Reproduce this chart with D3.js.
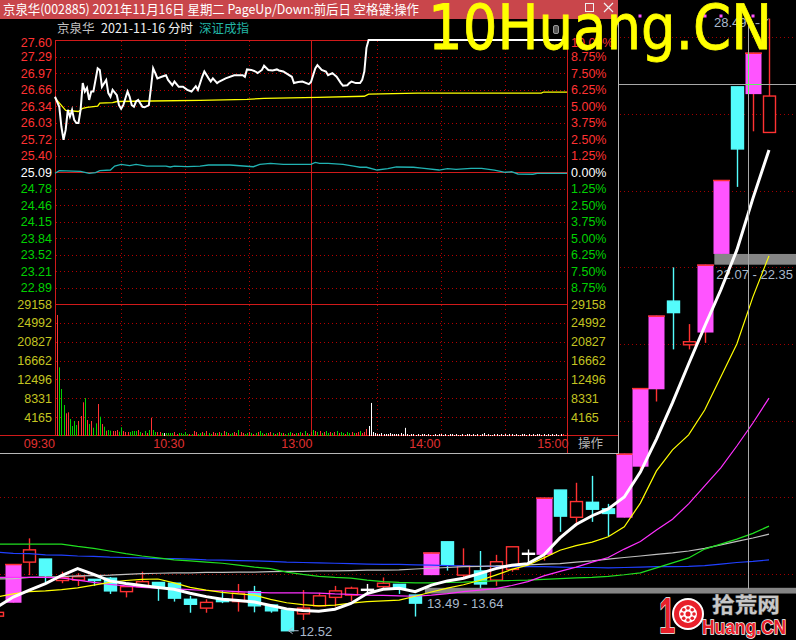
<!DOCTYPE html>
<meta charset="utf-8" />
<html>
<head>
<script src="https://cdnjs.cloudflare.com/ajax/libs/d3/7.8.5/d3.min.js"></script>
<style>
  body { margin: 0; background: #000; }
  svg { display: block; }
  .num { font-family: "Liberation Sans", Arial, sans-serif; font-size: 12.5px; }
  .cjk { font-family: "Noto Sans CJK SC", sans-serif; }
</style>
</head>
<body>
<svg width="796" height="640"></svg>
<script>
// ---------------- daily bars (oldest first), last bar = 2021-11-17 ----------------
var dayOpen  = [12.90, 13.25, 14.31, 14.39, 13.83, 13.84, 13.86, 13.89, 13.54, 13.67,
                13.78, 13.76, 13.34, 13.11, 13.34, 13.28, 13.54, 13.19, 13.06, 12.96,
                13.17, 13.39, 13.45, 13.60, 13.67, 13.73, 13.45, 13.97, 14.84, 13.97,
                14.08, 13.84, 14.12, 14.54, 14.50, 16.19, 15.48, 15.87, 15.70, 15.47,
                16.80, 18.82, 21.12, 19.98, 20.30, 22.35, 26.71, 26.52, 25.52];
var dayHigh  = [13.05, 14.26, 14.93, 14.39, 14.06, 14.02, 13.86, 13.92, 13.67, 14.06,
                13.78, 13.76, 13.43, 13.34, 13.56, 13.74, 13.69, 13.19, 13.06, 13.58,
                13.51, 13.69, 13.67, 13.74, 13.91, 13.73, 13.45, 14.56, 14.84, 14.67,
                14.60, 14.50, 14.71, 14.64, 15.99, 16.19, 16.38, 16.56, 15.83, 17.14,
                18.85, 20.74, 22.00, 20.52, 22.07, 24.28, 26.71, 27.60, 28.49];
var dayLow   = [12.85, 13.25, 13.97, 13.76, 13.76, 13.69, 13.69, 13.48, 13.39, 13.67,
                13.30, 13.28, 12.99, 12.99, 13.24, 13.02, 13.00, 12.99, 12.52, 12.80,
                13.17, 13.15, 13.30, 13.45, 13.61, 13.48, 12.89, 13.97, 14.09, 13.89,
                13.61, 13.69, 14.06, 14.29, 14.35, 15.10, 15.25, 15.36, 14.99, 15.47,
                16.71, 18.50, 19.86, 19.86, 20.03, 22.35, 24.10, 25.55, 25.52];
var dayClose = [13.00, 14.26, 14.63, 13.96, 13.90, 13.93, 13.83, 13.56, 13.67, 13.80,
                13.67, 13.37, 13.21, 13.26, 13.28, 13.50, 13.17, 13.04, 12.52, 13.11,
                13.43, 13.56, 13.63, 13.60, 13.76, 13.61, 13.24, 14.56, 14.23, 14.21,
                13.74, 14.32, 14.71, 14.54, 15.99, 15.51, 15.89, 15.69, 15.58, 17.14,
                18.85, 20.74, 20.82, 20.06, 22.07, 24.28, 25.09, 27.60, 26.47];
var limitUpDays = [1, 27, 34, 39, 40, 41, 44, 45, 47];

// moving averages
var ma5   = [13.14, 13.40, 13.58, 13.75, 13.96, 14.14, 13.99, 13.82, 13.75, 13.70,
             13.65, 13.60, 13.50, 13.41, 13.34, 13.31, 13.27, 13.18, 13.09, 13.05,
             13.03, 13.08, 13.23, 13.49, 13.60, 13.63, 13.54, 13.71, 13.82, 13.89,
             14.01, 14.14, 14.23, 14.27, 14.50, 14.94, 15.29, 15.52, 15.70, 16.01,
             16.66, 17.52, 18.47, 19.48, 20.46, 21.41, 22.45, 23.80, 25.06];
var ma10  = [13.40, 13.48, 13.54, 13.56, 13.59, 13.64, 13.71, 13.78, 13.83, 13.86,
             13.87, 13.77, 13.65, 13.58, 13.52, 13.48, 13.45, 13.34, 13.25, 13.20,
             13.17, 13.19, 13.24, 13.28, 13.30, 13.32, 13.42, 13.53, 13.63, 13.72,
             13.83, 13.97, 14.12, 14.23, 14.42, 14.62, 14.74, 14.83, 14.97, 15.23,
             15.85, 16.69, 17.24, 17.63, 18.28, 19.14, 20.00, 21.23, 22.30];
var ma20  = [13.91, 13.91, 13.91, 13.91, 13.90, 13.84, 13.78, 13.73, 13.69, 13.65,
             13.63, 13.61, 13.59, 13.57, 13.56, 13.54, 13.52, 13.51, 13.51, 13.51,
             13.50, 13.48, 13.47, 13.45, 13.44, 13.43, 13.42, 13.45, 13.49, 13.54,
             13.58, 13.62, 13.70, 13.80, 13.95, 14.07, 14.18, 14.31, 14.43, 14.65,
             14.85, 15.15, 15.43, 15.83, 16.30, 16.77, 17.34, 17.94, 18.59];
var ma30  = [14.78, 14.78, 14.78, 14.78, 14.78, 14.72, 14.67, 14.60, 14.53, 14.47,
             14.42, 14.37, 14.34, 14.31, 14.28, 14.23, 14.18, 14.14, 14.05, 13.99,
             13.94, 13.91, 13.89, 13.84, 13.80, 13.78, 13.77, 13.77, 13.78, 13.79,
             13.81, 13.82, 13.83, 13.84, 13.86, 13.88, 13.90, 13.91, 13.94, 13.98,
             14.03, 14.16, 14.29, 14.42, 14.65, 14.78, 14.91, 15.06, 15.25];
var ma60  = [13.87, 13.88, 13.91, 13.92, 13.93, 13.95, 13.96, 13.97, 13.99, 14.01,
             14.02, 14.03, 14.03, 14.04, 14.04, 14.05, 14.05, 14.06, 14.07, 14.07,
             14.08, 14.08, 14.09, 14.10, 14.10, 14.11, 14.13, 14.15, 14.17, 14.19,
             14.20, 14.21, 14.23, 14.24, 14.26, 14.27, 14.31, 14.34, 14.39, 14.43,
             14.47, 14.51, 14.55, 14.60, 14.67, 14.76, 14.85, 14.94, 15.04];
var ma120 = [14.57, 14.54, 14.53, 14.50, 14.49, 14.47, 14.46, 14.44, 14.43, 14.42,
             14.40, 14.40, 14.39, 14.37, 14.36, 14.35, 14.34, 14.33, 14.31, 14.30,
             14.29, 14.28, 14.27, 14.26, 14.25, 14.25, 14.24, 14.23, 14.22, 14.21,
             14.20, 14.20, 14.19, 14.19, 14.19, 14.18, 14.17, 14.17, 14.16, 14.17,
             14.18, 14.19, 14.19, 14.20, 14.22, 14.26, 14.30, 14.33, 14.37];

var gapLow  = [13.49, 22.07];
var gapHigh = [13.64, 22.35];
var gapFrom = [26.6, 44.6];

// ---------------- 2021-11-16 intraday ----------------
var prevClose = 25.09;
var priceMin = [0,2,3,4,5,6,7,8,9,10, 11,12,13,14,15,16,17,18,20,21, 22,24,25,26,27,29,30,31,32,34,
                35,36,37,38,39,41,42,44,45,46, 47,48,50,52,53,55,56,58,60,62, 64,66,67,69,70,72,73,74,76,77,
                80,84,88,89,90,92,94,95,97,98, 100,102,104,105,107,109,111,112,114,116,
                119,120,122,123,125,127,128,130,132,134, 135,137,138,139,141,143,144,145,146,147, 240];
var priceVal = [26.52,26.33,25.95,25.70,25.89,26.27,26.14,26.27,26.08,26.02,
                26.02,26.27,26.78,26.62,26.69,26.46,26.62,26.62,27.06,27.03,
                26.71,26.84,26.59,26.52,26.65,26.55,26.36,26.29,26.36,26.62,
                26.52,26.36,26.33,26.43,26.46,26.33,26.32,26.36,26.70,27.06,
                26.97,26.87,26.90,26.93,26.84,26.74,26.81,26.71,26.71,26.65,
                26.62,26.72,26.65,26.90,27.00,26.87,26.81,26.87,26.78,26.81,
                26.87,26.93,26.93,26.90,27.04,27.03,27.00,26.97,27.03,27.11,
                27.03,27.02,27.04,27.02,27.00,26.95,26.90,26.78,26.80,26.81,
                26.76,26.80,27.06,27.12,27.03,27.00,26.93,26.97,26.90,26.78,
                26.73,26.74,26.78,26.81,26.78,26.78,26.84,27.00,27.45,27.60, 27.60];
var avgMin = [0, 5, 11, 13, 15, 20, 21, 27, 29, 45, 68, 90, 98, 123, 145, 147, 170, 228, 229, 240];
var avgVal = [26.50, 26.26, 26.24, 26.30, 26.32, 26.34, 26.40, 26.41, 26.43, 26.44,
              26.45, 26.47, 26.49, 26.51, 26.53, 26.57, 26.59, 26.59, 26.61, 26.61];
// 深证成指, % change
var idxMin = [0,2,12,16,19,21,26,28,31,35, 38,43,52,54,56,62,68,72,82,93, 96,101,107,120,122,124,128,135,140,143,
              146,151,156,160,168,172,180,184,188,195, 200,206,211,214,217,224,226,240];
var idxPct = [-0.10,0.10,0.05,-0.10,-0.05,0.10,0.15,0.45,0.58,0.48, 0.58,0.45,0.45,0.38,0.45,0.40,0.45,0.53,0.53,0.40,
              0.58,0.66,0.58,0.58,0.73,0.66,0.66,0.58,0.45,0.36, 0.36,0.15,0.25,0.38,0.36,0.30,0.15,0.25,0.20,0.28,
              0.28,0.15,-0.02,0.02,-0.15,-0.17,-0.10,-0.10];
// volume per minute 09:31 .. 15:00
var volume = [26730,15176,10380,6848,5014,5235,3755,2209,3314,2430, 3314,4418,7444,8394,3534,2651,3314,1833,2805,7069,
              4263,2651,2054,1171,1325,1171,1105,1105,1325,950, 1922,1105,884,884,884,1105,1105,1105,1325,884,
              663,1105,663,1325,4042,1325,884,884,884,663, 663,663,663,663,663,884,442,663,663,442,
              884,442,442,442,1105,884,442,
              663,884,663,1105,663,442,884,663,663,884, 663,1105,884,663,442,663,884,663,1325,884,
              663,442,663,884,663,442,663,884,1105,663, 442,663,663,884,663,442,663,884,663,663,
              442,663,884,663,442,663,663,884,663,1105, 663,442,884,
              1325,1105,884,1105,663,884,1105,663,884,663, 884,1105,663,884,663,442,884,663,884,663,
              663,884,1105,663,884,1546,2209, 7300,
              884,663,442,442,663,442,442,442,663,442, 442,442,442,663,442, 1800,
              442,221,442,442,221,442,221,442,442,221, 442,221,221,442,221,442,442,221,442,221,
              442,442,221,442,221,221,442,221,442,442, 221,442,221,442,221,442,663,221,442,221,
              221,442,442,221,442,221,442,221,442,442, 221,442,221,221,442,442,221,442,221,442,
              221,442,442,221,442,221,442,221,442,221, 442,221,442,442,221,663];
var volColor = ("rgggrrggggrrrgrgrggrgrgrggrrrggrrrggggrgrgrgrggrrgwggggrrgggggrgrrg" +
                "grgrggrrgrgrgrggrrgrrggrgrgrggrgrrgrgrgrgggrrgrgrgrg" +
                "rgrgrgrggrgrgrggrggrgrrgrr" + "r" +
                "wwwwwwwwwwwwwwwwwwwwwwwwwwwwwwwwwwwwwwwwwwwwwwwwwwwwwwwwwwwwwwwwwwwwwwwwwwwwwwwwwwwwwwwwwww").split("");

var pctLevels = [10, 8.75, 7.5, 6.25, 5, 3.75, 2.5, 1.25, 0, -1.25, -2.5, -3.75, -5, -6.25, -7.5, -8.75];
var priceLabels = ["27.60","27.29","26.97","26.66","26.34","26.03","25.72","25.40","25.09",
                   "24.78","24.46","24.15","23.84","23.52","23.21","22.89"];
var pctLabels = ["10.00%","8.75%","7.50%","6.25%","5.00%","3.75%","2.50%","1.25%","0.00%",
                 "1.25%","2.50%","3.75%","5.00%","6.25%","7.50%","8.75%"];
var volTicks = [29158, 24992, 20827, 16662, 12496, 8331, 4165];
var timeLabels = ["09:30", "10:30", "13:00", "14:00", "15:00"];
var timeMinutes = [0, 60, 120, 180, 240];
var halfHours = [30, 60, 90, 150, 180, 210];

var RED = "#ff3232", CYAN = "#54fcfc", MAG = "#ff54ff", GRN = "#00d000";

var svg = d3.select("svg");
svg.append("rect").attr("width", 796).attr("height", 640).attr("fill", "#000");

// ================= daily chart (background) =================
var kx = d3.scaleLinear().domain([0, 48]).range([-2.8, 769]);
var ky = d3.scaleLinear().domain([14, 28]).range([574, 37.4]);
var days = dayOpen.map(function(o, i) {
    return {i: i, o: o, h: dayHigh[i], l: dayLow[i], c: dayClose[i], limit: limitUpDays.indexOf(i) >= 0};
});
var back = svg.append("g");

back.selectAll(".kgrid").data(ky.ticks(7)).enter().append("line")
    .attr("x1", 0).attr("x2", 796)
    .attr("y1", function(d) { return Math.round(ky(d)) + 0.5; })
    .attr("y2", function(d) { return Math.round(ky(d)) + 0.5; })
    .attr("stroke", "#a00000").attr("stroke-dasharray", "1,3");

function dayColor(d) {
    if (d.limit) return MAG;
    if (d.c > d.o) return RED;
    if (d.c < d.o) return CYAN;
    return "#ffffff";
}
var bar = back.selectAll(".day").data(days).enter().append("g");
bar.append("line")
    .attr("x1", function(d) { return Math.round(kx(d.i)) + 0.5; })
    .attr("x2", function(d) { return Math.round(kx(d.i)) + 0.5; })
    .attr("y1", function(d) { return ky(d.h); })
    .attr("y2", function(d) { return ky(d.l); })
    .attr("stroke", function(d) { return d.limit ? RED : dayColor(d); })
    .attr("stroke-width", 1.4);
bar.append("rect")
    .attr("x", function(d) { return Math.round(kx(d.i)) - (d.limit ? 8 : 6) + 0.5; })
    .attr("width", function(d) { return d.limit ? 16 : 12; })
    .attr("y", function(d) { return ky(Math.max(d.o, d.c)); })
    .attr("height", function(d) { return Math.max(1, Math.abs(ky(d.o) - ky(d.c))); })
    .attr("fill", function(d) { return (d.c > d.o && !d.limit) ? "#000" : dayColor(d); })
    .attr("stroke", function(d) { return d.limit ? "none" : dayColor(d); })
    .attr("stroke-width", 1.4);
bar.filter(function(d) { return d.limit; }).append("line")
    .attr("x1", function(d) { return Math.round(kx(d.i)) - 8; })
    .attr("x2", function(d) { return Math.round(kx(d.i)) + 9; })
    .attr("y1", function(d) { return ky(d.c) + 0.5; })
    .attr("y2", function(d) { return ky(d.c) + 0.5; })
    .attr("stroke", RED).attr("stroke-width", 1.5);

// price gap zones
back.selectAll(".gap").data(gapLow).enter().append("rect")
    .attr("x", function(d, i) { return kx(gapFrom[i]); })
    .attr("width", function(d, i) { return 796 - kx(gapFrom[i]); })
    .attr("y", function(d, i) { return ky(gapHigh[i]); })
    .attr("height", function(d, i) { return ky(gapLow[i]) - ky(gapHigh[i]); })
    .attr("fill", "#858585");
back.selectAll(".gaptext").data(gapLow).enter().append("text")
    .attr("class", "num").style("font-size", "13px")
    .attr("x", function(d, i) { return kx(gapFrom[i]) + 2; })
    .attr("y", function(d, i) { return ky(gapLow[i]) + 14; })
    .attr("fill", "#a9b9cc")
    .text(function(d, i) { return gapLow[i].toFixed(2) + " - " + gapHigh[i].toFixed(2); });

// moving averages
var maLine = d3.line().x(function(d, i) { return kx(i); }).y(function(d) { return ky(d); });
[[ma120, "#2040ff", 1.2], [ma60, "#c0c0c0", 1.2], [ma30, "#20e020", 1.2],
 [ma20, "#ff30ff", 1.2], [ma10, "#ffff00", 1.2], [ma5, "#ffffff", 3]].forEach(function(m) {
    back.append("path").datum(m[0]).attr("d", maLine)
        .attr("fill", "none").attr("stroke", m[1]).attr("stroke-width", m[2]);
});

// crosshair on 11-16
var crossX = 748.5, crossY = 84.5;
back.append("line").attr("x1", crossX).attr("x2", crossX).attr("y1", 14).attr("y2", 589)
    .attr("stroke", "#a8a8a8");
back.append("line").attr("x1", 0).attr("x2", 796).attr("y1", crossY).attr("y2", crossY)
    .attr("stroke", "#a8a8a8");
var cur = days[47];
back.append("line").attr("x1", crossX).attr("x2", crossX)
    .attr("y1", ky(cur.c)).attr("y2", ky(cur.o)).attr("stroke", "#5ff55f");
back.append("line").attr("x1", Math.round(kx(47)) - 7.5).attr("x2", Math.round(kx(47)) + 8.5)
    .attr("y1", crossY).attr("y2", crossY).attr("stroke", "#5ff55f");

// limit-up markers at top
back.selectAll(".lu").data(limitUpDays).enter().append("rect")
    .attr("x", function(d) { return Math.round(kx(d)) - 1.5; })
    .attr("y", 14.5).attr("width", 3).attr("height", 3).attr("fill", MAG);

// high / low notes
var hi = days[48], lo = days[18];
back.append("path")
    .attr("d", "M" + (crossX + 1) + "," + (ky(hi.h) + 5) + "L" + (kx(48) - 5) + "," + (ky(hi.h) + 5) +
               "L" + (kx(48) - 0.5) + "," + ky(hi.h))
    .attr("fill", "none").attr("stroke", "#a9b9cc").attr("stroke-dasharray", "4,2");
back.append("text").attr("class", "num").style("font-size", "13px")
    .attr("x", 714).attr("y", 27).attr("fill", "#a9b9cc").text(hi.h.toFixed(2));
back.append("path")
    .attr("d", "M" + (kx(18) + 12) + "," + ky(lo.l) + "h-10 m4,-3 l-4,3 l4,3")
    .attr("fill", "none").attr("stroke", "#a9b9cc");
back.append("text").attr("class", "num").style("font-size", "13px")
    .attr("x", kx(18) + 13).attr("y", ky(lo.l) + 5).attr("fill", "#a9b9cc").text(lo.l.toFixed(2));

// ================= intraday popup =================
var ov = svg.append("g");
ov.append("rect").attr("width", 618).attr("height", 453).attr("fill", "#000");
ov.append("rect").attr("width", 618).attr("height", 19).attr("fill", "#c9464b");
ov.append("text").attr("class", "cjk").attr("x", 3).attr("y", 14).attr("fill", "#fff")
    .style("font-size", "13px").attr("textLength", 416).attr("lengthAdjust", "spacingAndGlyphs")
    .text("京泉华(002885) 2021年11月16日 星期二 PageUp/Down:前后日 空格键:操作");
ov.append("rect").attr("x", 585.5).attr("y", 3.5).attr("width", 8).attr("height", 8)
    .attr("fill", "none").attr("stroke", "#f0f0f0");
ov.append("path").attr("d", "M604,3 L613,12 M613,3 L604,12").attr("stroke", "#f0f0f0").attr("stroke-width", 1.2);
ov.append("rect").attr("x", 553.5).attr("y", 25.5).attr("width", 5).attr("height", 8).attr("rx", 1.5)
    .attr("fill", "#555").attr("stroke", "#999");

ov.append("text").attr("class", "cjk").attr("x", 57).attr("y", 33).style("font-size", "12.5px")
    .attr("fill", "#c0c0c0").text("京泉华");
ov.append("text").attr("class", "cjk").attr("x", 101).attr("y", 33).style("font-size", "12.5px")
    .attr("fill", "#f0f0f0").text("2021-11-16 分时");
ov.append("text").attr("class", "cjk").attr("x", 199).attr("y", 33).style("font-size", "12.5px")
    .attr("fill", "#22b4a4").text("深证成指");

var xm = d3.scaleLinear().domain([0, 240]).range([55, 567]);
var yP = d3.scaleLinear().domain([prevClose * 0.9, prevClose * 1.1]).range([304, 40]);
var yPct = d3.scaleLinear().domain([-10, 10]).range([304, 40]);
var yV = d3.scaleLinear().domain([0, 29158]).range([436, 304]);
var gridRed = "#b40000", lineRed = "#d01a1a";

// dotted grid
ov.selectAll(".hg").data(pctLevels.filter(function(p) { return p !== 10 && p !== 0; })).enter().append("line")
    .attr("x1", 56).attr("x2", 567)
    .attr("y1", function(d) { return Math.round(yPct(d)) + 0.5; })
    .attr("y2", function(d) { return Math.round(yPct(d)) + 0.5; })
    .attr("stroke", gridRed).attr("stroke-dasharray", "1,3");
ov.selectAll(".vg").data(volTicks.slice(1)).enter().append("line")
    .attr("x1", 56).attr("x2", 567)
    .attr("y1", function(d) { return Math.round(yV(d)) + 0.5; })
    .attr("y2", function(d) { return Math.round(yV(d)) + 0.5; })
    .attr("stroke", gridRed).attr("stroke-dasharray", "1,3");
ov.selectAll(".tg").data(halfHours).enter().append("line")
    .attr("x1", function(d) { return Math.round(xm(d)) + 2.5; })
    .attr("x2", function(d) { return Math.round(xm(d)) + 2.5; })
    .attr("y1", 41).attr("y2", 435)
    .attr("stroke", gridRed).attr("stroke-dasharray", "1,3");

// solid frame lines
[40, 172, 304].forEach(function(y) {
    ov.append("line").attr("x1", 55).attr("x2", 567).attr("y1", y + 0.5).attr("y2", y + 0.5).attr("stroke", lineRed);
});
ov.append("line").attr("x1", 0).attr("x2", 618).attr("y1", 435.5).attr("y2", 435.5).attr("stroke", lineRed);
ov.append("line").attr("x1", 55.5).attr("x2", 55.5).attr("y1", 40).attr("y2", 436).attr("stroke", lineRed);
ov.append("line").attr("x1", 567.5).attr("x2", 567.5).attr("y1", 40).attr("y2", 453).attr("stroke", lineRed);
ov.append("line").attr("x1", Math.round(xm(120)) + 0.5).attr("x2", Math.round(xm(120)) + 0.5)
    .attr("y1", 40).attr("y2", 436).attr("stroke", lineRed);
ov.append("line").attr("x1", 0).attr("x2", 618).attr("y1", 453.5).attr("y2", 453.5).attr("stroke", "#b8b8b8");
ov.append("line").attr("x1", 618.5).attr("x2", 618.5).attr("y1", 19).attr("y2", 454).attr("stroke", "#b8b8b8");

// axis labels
function sideColor(p) { return p > 0 ? RED : (p < 0 ? GRN : "#ffffff"); }
ov.selectAll(".pl").data(pctLevels).enter().append("text").attr("class", "num")
    .attr("x", 52).attr("text-anchor", "end")
    .attr("y", function(d, i) { return Math.max(46.5, yPct(d) + 4.5); })
    .attr("fill", sideColor).text(function(d, i) { return priceLabels[i]; });
ov.selectAll(".pr").data(pctLevels).enter().append("text").attr("class", "num")
    .attr("x", 571)
    .attr("y", function(d) { return Math.max(46.5, yPct(d) + 4.5); })
    .attr("fill", sideColor).text(function(d, i) { return pctLabels[i]; });
ov.selectAll(".vl").data(volTicks).enter().append("text").attr("class", "num")
    .attr("x", 52).attr("text-anchor", "end")
    .attr("y", function(d) { return yV(d) + 4.5; }).attr("fill", "#c4c420").text(function(d) { return d; });
ov.selectAll(".vr").data(volTicks).enter().append("text").attr("class", "num")
    .attr("x", 571)
    .attr("y", function(d) { return yV(d) + 4.5; }).attr("fill", "#c4c420").text(function(d) { return d; });
ov.selectAll(".tl").data(timeMinutes).enter().append("text").attr("class", "num")
    .attr("x", function(d) { return d === 0 ? 55 : Math.round(xm(d)) + 1.5; }).attr("text-anchor", "end")
    .attr("y", 448).attr("fill", "#e03030").text(function(d, i) { return timeLabels[i]; });
ov.append("text").attr("class", "cjk").attr("x", 578).attr("y", 448).style("font-size", "12.5px")
    .attr("fill", "#b4b4b4").text("操作");

// volume bars
ov.selectAll(".vb").data(volume).enter().append("rect")
    .attr("x", function(d, i) { return Math.round(xm(i + 1)); })
    .attr("width", 1)
    .attr("y", function(d) { return yV(d); })
    .attr("height", function(d) { return 436 - yV(d); })
    .attr("fill", function(d, i) {
        var c = volColor[i];
        return c === "g" ? GRN : (c === "w" ? "#ffffff" : RED);
    });

// index, average and price lines
var idxLine = d3.line().x(function(d, i) { return xm(idxMin[i]); }).y(function(d) { return yPct(d); });
ov.append("path").datum(idxPct).attr("d", idxLine).attr("fill", "none")
    .attr("stroke", "#21b2b2").attr("stroke-width", 1.3);
var avgLine = d3.line().x(function(d, i) { return xm(avgMin[i]); }).y(function(d) { return yP(d); });
ov.append("path").datum(avgVal).attr("d", avgLine).attr("fill", "none")
    .attr("stroke", "#ffff00").attr("stroke-width", 1.3);
var priceLine = d3.line().x(function(d, i) { return xm(priceMin[i]); }).y(function(d) { return yP(d); });
ov.append("path").datum(priceVal).attr("d", priceLine).attr("fill", "none")
    .attr("stroke", "#ffffff").attr("stroke-width", 2);

// ================= watermarks =================
svg.append("text").attr("x", 428).attr("y", 49)
    .style("font-family", "'DejaVu Sans', sans-serif").style("font-size", "62px")
    .attr("textLength", 344).attr("lengthAdjust", "spacingAndGlyphs")
    .attr("fill", "#ffff00").attr("stroke", "#ffff00").attr("stroke-width", 0.8)
    .text("10Huang.CN");

var logo = svg.append("g");
logo.append("text").attr("x", 659).attr("y", 633)
    .style("font-family", "'Liberation Sans', sans-serif").style("font-size", "50px").style("font-weight", "bold")
    .attr("textLength", 16).attr("lengthAdjust", "spacingAndGlyphs")
    .attr("fill", "#e8202a").attr("stroke", "#fff").attr("stroke-width", 1.5).style("paint-order", "stroke")
    .text("1");
logo.append("circle").attr("cx", 688).attr("cy", 614).attr("r", 15)
    .attr("fill", "#e8202a").attr("stroke", "#fff").attr("stroke-width", 2);
logo.append("circle").attr("cx", 688).attr("cy", 614).attr("r", 9).attr("fill", "#fff");
d3.range(8).forEach(function(k) {
    var a = k * Math.PI / 4;
    logo.append("circle").attr("cx", 688 + 6 * Math.cos(a)).attr("cy", 614 + 6 * Math.sin(a))
        .attr("r", 1.8).attr("fill", "#e8202a");
});
logo.append("circle").attr("cx", 688).attr("cy", 614).attr("r", 2.5).attr("fill", "#e8202a");
logo.append("text").attr("x", 712).attr("y", 612).attr("class", "cjk")
    .style("font-size", "21px").style("font-weight", "bold")
    .attr("textLength", 68).attr("lengthAdjust", "spacingAndGlyphs")
    .attr("fill", "#c8c8c8").attr("stroke", "#444").attr("stroke-width", 1).style("paint-order", "stroke")
    .text("拾荒网");
logo.append("text").attr("x", 702).attr("y", 634)
    .style("font-family", "'Liberation Sans', sans-serif").style("font-size", "21px").style("font-weight", "bold")
    .attr("textLength", 84).attr("lengthAdjust", "spacingAndGlyphs")
    .attr("fill", "#e8202a").attr("stroke", "#fff").attr("stroke-width", 1.5).style("paint-order", "stroke")
    .text("Huang.CN");
</script>
</body>
</html>
